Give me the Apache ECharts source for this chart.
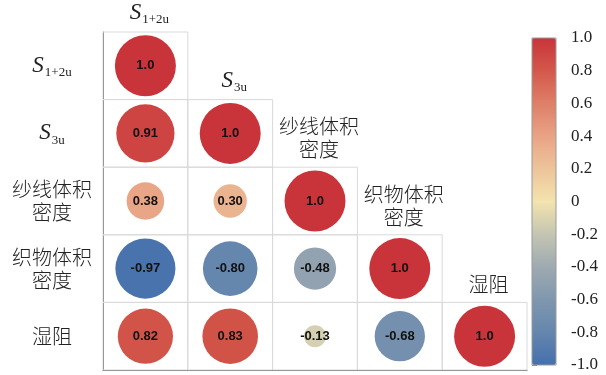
<!DOCTYPE html>
<html>
<head>
<meta charset="utf-8">
<script src="https://cdn.jsdelivr.net/npm/echarts@6/dist/echarts.min.js"></script>
<style>html,body{margin:0;padding:0;background:#fff;}#c{width:606px;height:375px;}</style>
</head>
<body>
<div id="c"></div>
<script>
// variable names (rich-text markup for subscripts)
const varLabels = ['{s|S}{sub|1+2u}', '{s|S}{sub|3u}', '纱线体积\n密度', '织物体积\n密度', '湿阻'];
// lower-triangular correlation matrix, row by row
const row0 = [1.0];
const row1 = [0.91, 1.0];
const row2 = [0.38, 0.30, 1.0];
const row3 = [-0.97, -0.80, -0.48, 1.0];
const row4 = [0.82, 0.83, -0.13, -0.68, 1.0];
const corrRows = [row0, row1, row2, row3, row4];
// colour-bar ticks
const cbMin = -1, cbMax = 1, cbStep = 0.2;
const cbColors = ['#4470ad', '#6586ad', '#7f97ae', '#9eaab1', '#c4c5b2', '#f3e3ae',
                  '#edc49a', '#e9a385', '#de7f68', '#d3584b', '#c8343a'];

const cats = varLabels.map((_, i) => String(i));
const scatterData = [];
const cellData = [];
corrRows.forEach((row, r) => row.forEach((v, c) => {
  scatterData.push([c, r, v]);
  cellData.push([c, r]);
}));

const richStyles = {
  s: { fontFamily: 'Liberation Serif', fontStyle: 'italic', fontSize: 23, color: '#222', lineHeight: 26 },
  sub: { fontFamily: 'Liberation Serif', fontSize: 13, color: '#222', padding: [14, 0, 0, 1], lineHeight: 26 }
};
const cjkFont = '"Noto Sans CJK SC", sans-serif';

const chart = echarts.init(document.getElementById('c'));
chart.setOption({
  animation: false,
  grid: [
    { left: 103, right: 79, top: 32, bottom: 5 },
    { left: 532, top: 38, width: 24, height: 327, show: true, borderColor: '#9a9a9a', borderWidth: 1, z: 5 }
  ],
  xAxis: [
    { type: 'category', data: cats, gridIndex: 0, axisTick: { show: false }, axisLabel: { show: false },
      axisLine: { lineStyle: { color: '#555', width: 1 } }, splitLine: { show: false } },
    { type: 'value', gridIndex: 1, show: false, min: 0, max: 1 }
  ],
  yAxis: [
    { type: 'category', data: cats, inverse: true, gridIndex: 0, axisTick: { show: false },
      axisLine: { lineStyle: { color: '#555', width: 1 } }, splitLine: { show: false },
      axisLabel: {
        formatter: (v) => varLabels[+v], align: 'center', margin: 51,
        fontFamily: cjkFont, fontSize: 20, fontWeight: 300, lineHeight: 23, color: '#222', rich: richStyles
      } },
    { type: 'value', gridIndex: 1, position: 'right', min: cbMin, max: cbMax, interval: cbStep,
      axisLine: { show: false }, splitLine: { show: false },
      axisTick: { show: true, length: 5, lineStyle: { color: '#888' } },
      axisLabel: { margin: 15, fontFamily: 'Liberation Serif', fontSize: 17, color: '#222',
        formatter: (v) => Math.abs(v) < 1e-9 ? '0' : v.toFixed(1) } }
  ],
  visualMap: {
    type: 'continuous', min: cbMin, max: cbMax, dimension: 2, seriesIndex: 1,
    left: 527, top: 33, itemWidth: 24, itemHeight: 327, calculable: false, showLabel: false,
    text: null, inRange: { color: cbColors }, padding: 5
  },
  series: [
    {
      type: 'custom', xAxisIndex: 0, yAxisIndex: 0, z: 1, data: cellData, silent: true,
      renderItem: function (params, api) {
        const c = api.value(0), r = api.value(1);
        const p = api.coord([c, r]);
        const s = api.size([1, 1]);
        const children = [{
          type: 'rect',
          shape: { x: p[0] - s[0] / 2, y: p[1] - s[1] / 2, width: s[0], height: s[1] },
          style: { fill: 'none', stroke: '#d9d9d9', lineWidth: 1 }
        }];
        if (c === r) {
          children.push({
            type: 'text',
            style: {
              text: varLabels[c], x: p[0] + 4, y: p[1] - s[1] / 2 - 6,
              align: 'center', verticalAlign: 'bottom',
              font: '300 20px ' + cjkFont, lineHeight: 23, fill: '#222', rich: richStyles
            }
          });
        }
        return { type: 'group', children: children };
      }
    },
    {
      type: 'scatter', xAxisIndex: 0, yAxisIndex: 0, z: 3, data: scatterData,
      symbol: 'circle',
      symbolSize: (d) => 61 * Math.sqrt(Math.abs(d[2])),
      label: {
        show: true, position: 'inside', color: '#111', fontFamily: 'Liberation Sans',
        fontWeight: 'bold', fontSize: 13,
        formatter: (p) => p.value[2] === 1 ? '1.0' : p.value[2].toFixed(2)
      },
      itemStyle: { opacity: 1 }
    }
  ]
});
</script>
</body>
</html>
